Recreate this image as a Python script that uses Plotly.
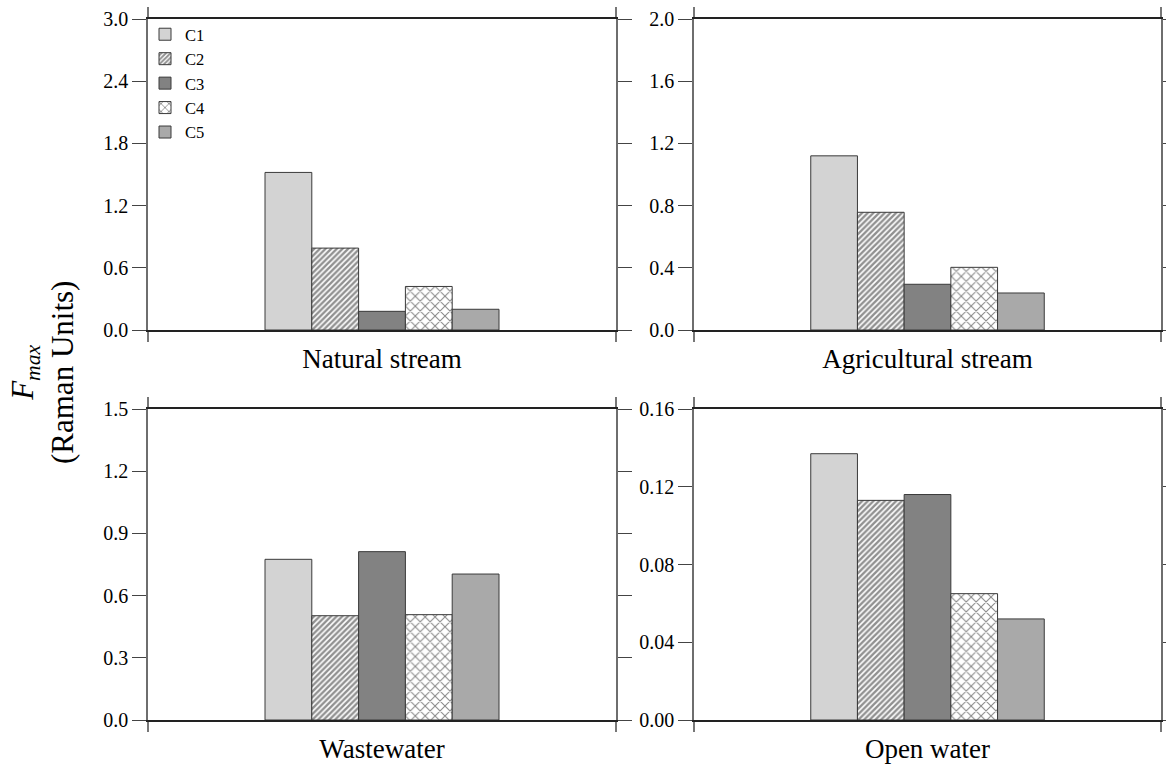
import plotly.graph_objects as go

components = ["C1", "C2", "C3", "C4", "C5"]
sites = ["Natural stream", "Agricultural stream", "Wastewater", "Open water"]
natural_stream = [1.52, 0.79, 0.18, 0.42, 0.20]
agricultural_stream = [1.12, 0.757, 0.294, 0.403, 0.238]
wastewater = [0.775, 0.503, 0.812, 0.508, 0.704]
open_water = [0.137, 0.113, 0.116, 0.065, 0.052]
site_values = [natural_stream, agricultural_stream, wastewater, open_water]

y_ranges = [[0, 3.0], [0, 2.0], [0, 1.5], [0, 0.16]]
y_dticks = [0.6, 0.4, 0.3, 0.04]
y_formats = [".1f", ".1f", ".1f", ".2f"]

fill_colors = ["#d3d3d3", "#ffffff", "#828282", "#ffffff", "#a9a9a9"]
patterns = [None, dict(shape="/", size=4, solidity=0.6, fgcolor="#222222", bgcolor="#ffffff"),
            None, dict(shape="x", size=7, solidity=0.28, fgcolor="#111111", bgcolor="#ffffff"),
            None]

W, H = 1166, 771
xdom = [[148 / W, 616 / W], [694 / W, 1161 / W]] * 2
ydom = [[1 - 330 / H, 1 - 19 / H]] * 2 + [[1 - 720 / H, 1 - 409 / H]] * 2

SERIF = "Liberation Serif"

fig = go.Figure()
for p in range(4):
    xa = "x" if p == 0 else f"x{p+1}"
    ya = "y" if p == 0 else f"y{p+1}"
    for i, comp in enumerate(components):
        marker = dict(color=fill_colors[i], line=dict(color="#3a3a3a", width=1))
        if patterns[i] is not None:
            marker["pattern"] = patterns[i]
        fig.add_trace(go.Bar(
            x=[0], y=[site_values[p][i]], name=comp, marker=marker,
            xaxis=xa, yaxis=ya, showlegend=(p == 0), legendgroup=comp,
        ))

layout = dict(
    width=W, height=H,
    margin=dict(l=0, r=0, t=0, b=0, autoexpand=False),
    paper_bgcolor="white", plot_bgcolor="white",
    barmode="group", bargap=0.5, bargroupgap=0,
    font=dict(family=SERIF, color="#000000"),
    showlegend=True,
    legend=dict(x=145 / W, y=1 - 17 / H, xanchor="left", yanchor="top",
                font=dict(family=SERIF, size=16.5, color="#000000"), bgcolor="rgba(0,0,0,0)",
                itemwidth=30, tracegroupgap=0),
)
for p in range(4):
    xk = "xaxis" if p == 0 else f"xaxis{p+1}"
    yk = "yaxis" if p == 0 else f"yaxis{p+1}"
    ya = "y" if p == 0 else f"y{p+1}"
    xa = "x" if p == 0 else f"x{p+1}"
    layout[xk] = dict(
        domain=xdom[p], anchor=ya, range=[-0.5, 0.5], automargin=False,
        tickmode="array", tickvals=[-0.5, 0.5], showticklabels=False,
        ticks="outside", ticklen=10, tickwidth=1.5, tickcolor="#777777",
        showline=True, linecolor="#222222", linewidth=1.5, mirror="ticks",
        showgrid=False, zeroline=False, fixedrange=True,
        title=dict(text=sites[p], font=dict(family=SERIF, size=27, color="#000000"), standoff=8),
    )
    layout[yk] = dict(
        domain=ydom[p], anchor=xa, range=y_ranges[p], automargin=False,
        tickmode="linear", tick0=0, dtick=y_dticks[p], tickformat=y_formats[p],
        ticks="outside", ticklen=14, tickwidth=1.2, tickcolor="#444444",
        tickfont=dict(family=SERIF, size=20, color="#000000"),
        showline=True, linecolor="#6e6e6e", linewidth=1.5, mirror="ticks",
        showgrid=False, zeroline=False, fixedrange=True,
    )
fig.update_layout(**layout)

fig.add_annotation(
    text="<i>F</i><sub><i>max</i></sub><br>(Raman Units)",
    textangle=-90, xref="paper", yref="paper",
    x=42 / W, y=1 - 373 / H, xanchor="center", yanchor="middle",
    showarrow=False, font=dict(family=SERIF, size=31, color="#000000"),
)

fig.write_html("out.html")
